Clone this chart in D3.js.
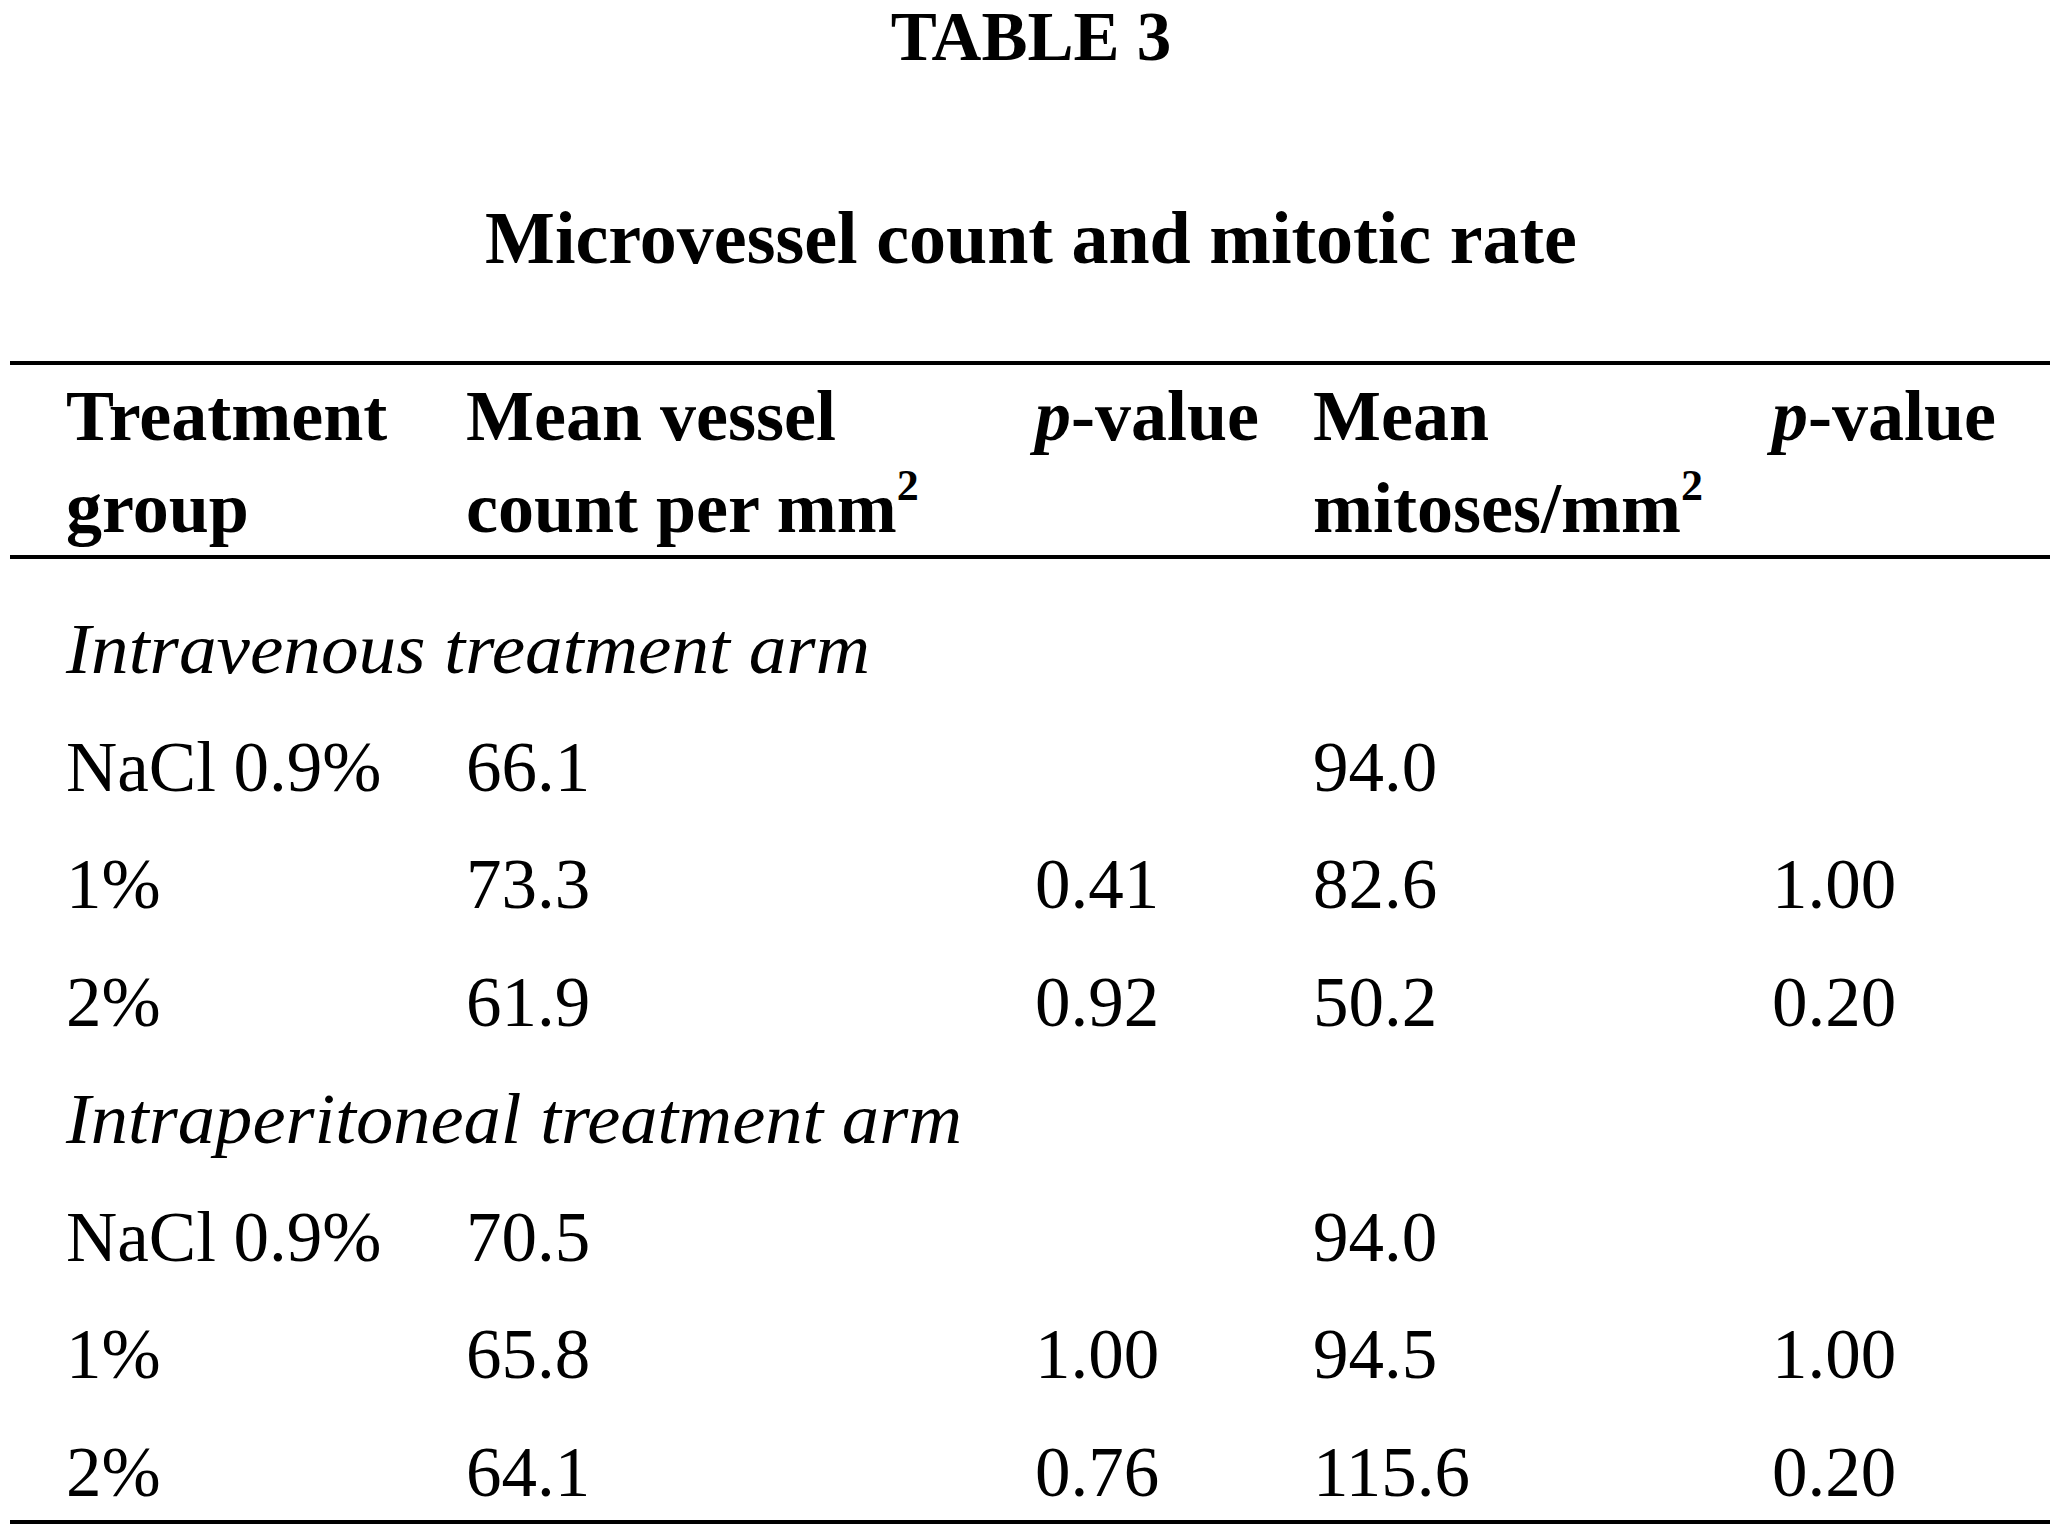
<!DOCTYPE html>
<html>
<head>
<meta charset="utf-8">
<script src="https://cdn.jsdelivr.net/npm/d3@7"></script>
<style>
  html, body { margin: 0; padding: 0; background: #fff; }
  svg { display: block; }
  text { font-family: "Liberation Serif", "DejaVu Serif", serif; fill: #000; }
</style>
</head>
<body>
<svg id="chart" width="2060" height="1535"></svg>
<script>
// ---- data ----
const title = "TABLE 3";
const subtitle = "Microvessel count and mitotic rate";
const columns = ["group", "vessel", "pVessel", "mitoses", "pMitoses"];
const headerLine1 = [
  [{t: "Treatment"}],
  [{t: "Mean vessel"}],
  [{t: "p", it: true}, {t: "-value"}],
  [{t: "Mean"}],
  [{t: "p", it: true}, {t: "-value"}]
];
const headerLine2 = [
  [{t: "group"}],
  [{t: "count per mm"}, {t: "2", sup: true}],
  [],
  [{t: "mitoses/mm"}, {t: "2", sup: true}],
  []
];
const groupLabels = ["Intravenous treatment arm", "Intraperitoneal treatment arm"];
const treatments = ["NaCl 0.9%", "1%", "2%"];
const vesselIV = ["66.1", "73.3", "61.9"];
const pVesselIV = ["", "0.41", "0.92"];
const mitosesIV = ["94.0", "82.6", "50.2"];
const pMitosesIV = ["", "1.00", "0.20"];
const vesselIP = ["70.5", "65.8", "64.1"];
const pVesselIP = ["", "1.00", "0.76"];
const mitosesIP = ["94.0", "94.5", "115.6"];
const pMitosesIP = ["", "1.00", "0.20"];

// ---- build rows ----
const blocks = [
  [vesselIV, pVesselIV, mitosesIV, pMitosesIV],
  [vesselIP, pVesselIP, mitosesIP, pMitosesIP]
];
const rows = [];
groupLabels.forEach((g, gi) => {
  rows.push({type: "group", label: g});
  treatments.forEach((t, ti) => {
    const b = blocks[gi];
    rows.push({type: "data", cells: [t, b[0][ti], b[1][ti], b[2][ti], b[3][ti]]});
  });
});

// ---- layout ----
const svg = d3.select("#chart");
const W = 2060;
const fs = 71;
const hfs = 72;
const x = d3.scaleOrdinal().domain(columns).range([66, 466, 1035, 1313, 1772]);
const y = d3.scaleLinear().domain([0, rows.length - 1]).range([673, 1496]);
const groupWidths = [804, 896];

svg.append("text")
  .attr("x", 1031).attr("y", 60)
  .attr("text-anchor", "middle")
  .attr("font-weight", "bold")
  .attr("font-size", 69)
  .text(title);

svg.append("text")
  .attr("x", 1031).attr("y", 263)
  .attr("text-anchor", "middle")
  .attr("font-weight", "bold")
  .attr("font-size", 74)
  .text(subtitle);

// rules
const rules = [363, 557, 1522];
svg.selectAll("line.rule").data(rules).join("line")
  .attr("class", "rule")
  .attr("x1", 10).attr("x2", 2050)
  .attr("y1", d => d).attr("y2", d => d)
  .attr("stroke", "#000").attr("stroke-width", 4);

// headers
function drawHeader(line, baseline) {
  line.forEach((parts, ci) => {
    if (!parts.length) return;
    const t = svg.append("text")
      .attr("x", x(columns[ci])).attr("y", baseline)
      .attr("font-weight", "bold")
      .attr("font-size", hfs);
    parts.forEach(p => {
      const s = t.append("tspan").text(p.t);
      if (p.it) s.attr("font-style", "italic");
      if (p.sup) s.attr("font-size", 44).attr("dy", -32);
    });
  });
}
drawHeader(headerLine1, 440);
drawHeader(headerLine2, 532);

// body rows
let gIdx = 0;
rows.forEach((r, ri) => {
  if (r.type === "group") {
    svg.append("text")
      .attr("x", x("group")).attr("y", y(ri))
      .attr("font-style", "italic")
      .attr("font-size", fs)
      .attr("textLength", groupWidths[gIdx++])
      .attr("lengthAdjust", "spacingAndGlyphs")
      .text(r.label);
  } else {
    svg.selectAll(null).data(r.cells.map((c, ci) => ({c, col: columns[ci]})))
      .join("text")
      .attr("x", d => x(d.col)).attr("y", y(ri))
      .attr("font-size", fs)
      .text(d => d.c);
  }
});
</script>
</body>
</html>
